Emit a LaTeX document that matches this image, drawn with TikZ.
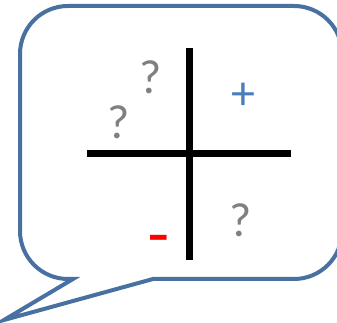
\documentclass[tikz,border=0pt]{standalone}
\usepackage{fontspec}
\setmainfont{Carlito}
\definecolor{bubbleblue}{RGB}{72,112,160}
\definecolor{plusblue}{RGB}{74,126,187}
\definecolor{qgray}{RGB}{128,128,128}
\definecolor{minred}{RGB}{255,0,0}
\tikzset{
  bubble/.style={draw=bubbleblue, line width=4pt, line join=miter},
  axis/.style={draw=black, line width=7pt},
  qmark/.style={text=qgray, inner sep=0pt, font=\fontsize{48}{48}\selectfont},
  signmark/.style={inner sep=0pt, font=\fontsize{48}{48}\selectfont},
}
\begin{document}
\begin{tikzpicture}[x=1pt,y=1pt]
\useasboundingbox (0,0) rectangle (337,323);
\clip (0,0) rectangle (337,323);
\coordinate (tailA) at (153,44);
\coordinate (tip) at (4,3);
\coordinate (tailB) at (73,44);
\draw[bubble] (tailA) -- (tip) -- (tailB) -- (68,44)
  arc[start angle=270, end angle=180, radius=48pt] -- (20,269)
  arc[start angle=180, end angle=90, radius=48pt] -- (294,317)
  arc[start angle=90, end angle=0, radius=48pt] -- (342,92)
  arc[start angle=0, end angle=-90, radius=48pt] -- cycle;
\coordinate (vtop) at (189,275);
\coordinate (vbot) at (189,63);
\coordinate (hleft) at (87,169);
\coordinate (hright) at (291,169);
\draw[axis] (vtop) -- (vbot);
\draw[axis] (hleft) -- (hright);
\node[qmark] (q1) at (151,246) {?};
\node[qmark] (q2) at (119,201) {?};
\node[qmark] (q3) at (241,103) {?};
\node[signmark, text=plusblue] (plus) at (243,227) {+};
\node[signmark, text=minred, font=\fontsize{48}{48}\selectfont\bfseries] (minus) at (159,80) {\scalebox{1.4}[1]{-}};
\end{tikzpicture}
\end{document}
